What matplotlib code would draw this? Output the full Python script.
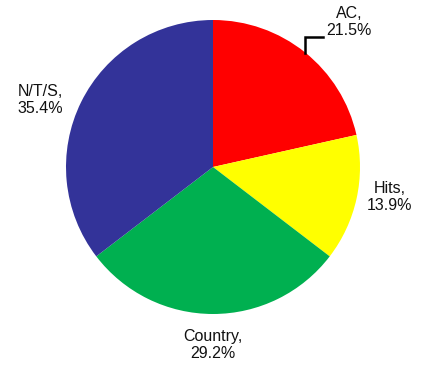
import matplotlib
matplotlib.use("Agg")
import matplotlib.pyplot as plt

# Data
categories = ["AC", "Hits", "Country", "N/T/S"]
shares = [21.5, 13.9, 29.2, 35.4]
colors = ["#FF0000", "#FFFF00", "#00B050", "#333399"]

W, H = 423, 368
plt.rcParams["font.family"] = ["Liberation Sans", "DejaVu Sans"]

fig = plt.figure(figsize=(W / 100, H / 100), dpi=100)
ax = fig.add_axes([0, 0, 1, 1])

cx, cy, r = 213, H - 167, 147
ax.pie(shares, colors=colors, startangle=90, counterclock=False,
       center=(cx, cy), radius=r, frame=True,
       wedgeprops=dict(linewidth=0))
ax.set_xlim(0, W)
ax.set_ylim(0, H)
ax.set_aspect("equal")
ax.axis("off")

# label positions (pixels from top-left)
label_pos = [(349, 22), (390, 197), (213, 345), (40, 100)]
for name, val, (px, py) in zip(categories, shares, label_pos):
    ax.text(px, H - py, f"{name},\n{val}%", ha="center", va="center",
            fontsize=11.5, color="#111111", linespacing=1.2)

# leader line for AC
ax.plot([305, 305, 323], [H - 53, H - 37, H - 37], color="black", lw=1.8,
        solid_joinstyle="miter")

fig.savefig("out.png", dpi=100)
